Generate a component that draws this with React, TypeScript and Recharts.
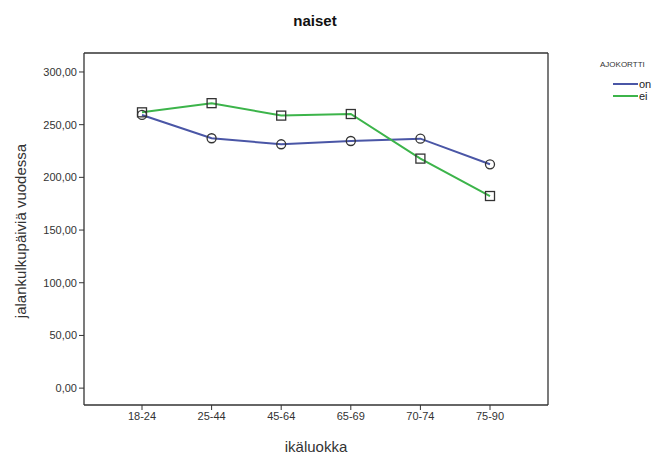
import React from 'react';
import { LineChart, Line, XAxis, YAxis } from 'recharts';

const ageGroups = ['18-24', '25-44', '45-64', '65-69', '70-74', '75-90'];
const onValues = [259.2, 237.1, 231.4, 234.5, 236.7, 212.4];
const eiValues = [261.7, 270.4, 258.6, 260.1, 217.8, 182.3];
const yTicks = [0, 50, 100, 150, 200, 250, 300];

const data = ageGroups.map((g, i) => ({ group: g, on: onValues[i], ei: eiValues[i] }));

const font = '"Liberation Sans", Arial, sans-serif';
const fmt = (v: number) => v.toFixed(2).replace('.', ',');
const frame = { stroke: '#333', strokeWidth: 1.3 };

const SquareDot = (props: any) => {
    const { cx, cy } = props;
    if (cx == null || cy == null) return null;
    return <rect x={cx - 4.5} y={cy - 4.5} width={9} height={9} fill="none" stroke="#333" strokeWidth={1.3} />;
};

const CircleDot = (props: any) => {
    const { cx, cy } = props;
    if (cx == null || cy == null) return null;
    return <circle cx={cx} cy={cy} r={4.5} fill="none" stroke="#333" strokeWidth={1.3} />;
};

const App: React.FC = () => {
    return (
        <div style={{ position: 'absolute', left: 0, top: 0, width: 664, height: 457, background: '#fff', fontFamily: font }}>
            <div style={{ position: 'absolute', left: 0, width: 630, top: 12, textAlign: 'center', fontWeight: 'bold', fontSize: 15, color: '#111' }}>
                naiset
            </div>
            <LineChart width={664} height={457} data={data} margin={{ top: 52, right: 115, bottom: 22, left: 24 }}>
                <XAxis
                    dataKey="group"
                    scale="point"
                    padding={{ left: 58, right: 58 }}
                    height={30}
                    tick={{ fill: '#333', fontSize: 11, fontFamily: font }}
                    tickLine={{ stroke: '#333' }}
                    tickSize={5}
                    axisLine={frame}
                />
                <XAxis
                    xAxisId="top"
                    orientation="top"
                    dataKey="group"
                    scale="point"
                    padding={{ left: 58, right: 58 }}
                    height={1}
                    tick={false}
                    tickLine={false}
                    axisLine={frame}
                />
                <YAxis
                    domain={[-16, 318]}
                    ticks={yTicks}
                    tickFormatter={fmt}
                    width={60}
                    tick={{ fill: '#333', fontSize: 11, fontFamily: font }}
                    tickLine={{ stroke: '#333' }}
                    tickSize={5}
                    axisLine={frame}
                />
                <YAxis
                    yAxisId="right"
                    orientation="right"
                    domain={[-16, 318]}
                    ticks={yTicks}
                    width={1}
                    tick={false}
                    tickLine={false}
                    axisLine={frame}
                />
                <Line dataKey="on" stroke="#4a56a6" strokeWidth={2} dot={<CircleDot />} isAnimationActive={false} />
                <Line dataKey="ei" xAxisId="top" yAxisId="right" stroke="#3cb44a" strokeWidth={2} dot={<SquareDot />} isAnimationActive={false} />
            </LineChart>
            <div style={{ position: 'absolute', left: 84, width: 464, top: 438, textAlign: 'center', fontSize: 15, color: '#333' }}>
                ikäluokka
            </div>
            <div style={{ position: 'absolute', left: 20, top: 231, transform: 'translate(-50%, -50%) rotate(-90deg)', whiteSpace: 'nowrap', fontSize: 15, color: '#333' }}>
                jalankulkupäiviä vuodessa
            </div>
            <div style={{ position: 'absolute', left: 600, top: 60, fontSize: 8, color: '#333' }}>AJOKORTTI</div>
            <div style={{ position: 'absolute', left: 613, top: 78, fontSize: 11, color: '#222', display: 'flex', alignItems: 'center' }}>
                <span style={{ display: 'inline-block', width: 25, height: 2, background: '#4a56a6', marginRight: 1 }} />on
            </div>
            <div style={{ position: 'absolute', left: 613, top: 90, fontSize: 11, color: '#222', display: 'flex', alignItems: 'center' }}>
                <span style={{ display: 'inline-block', width: 25, height: 2, background: '#3cb44a', marginRight: 1 }} />ei
            </div>
        </div>
    );
};

export default App;
